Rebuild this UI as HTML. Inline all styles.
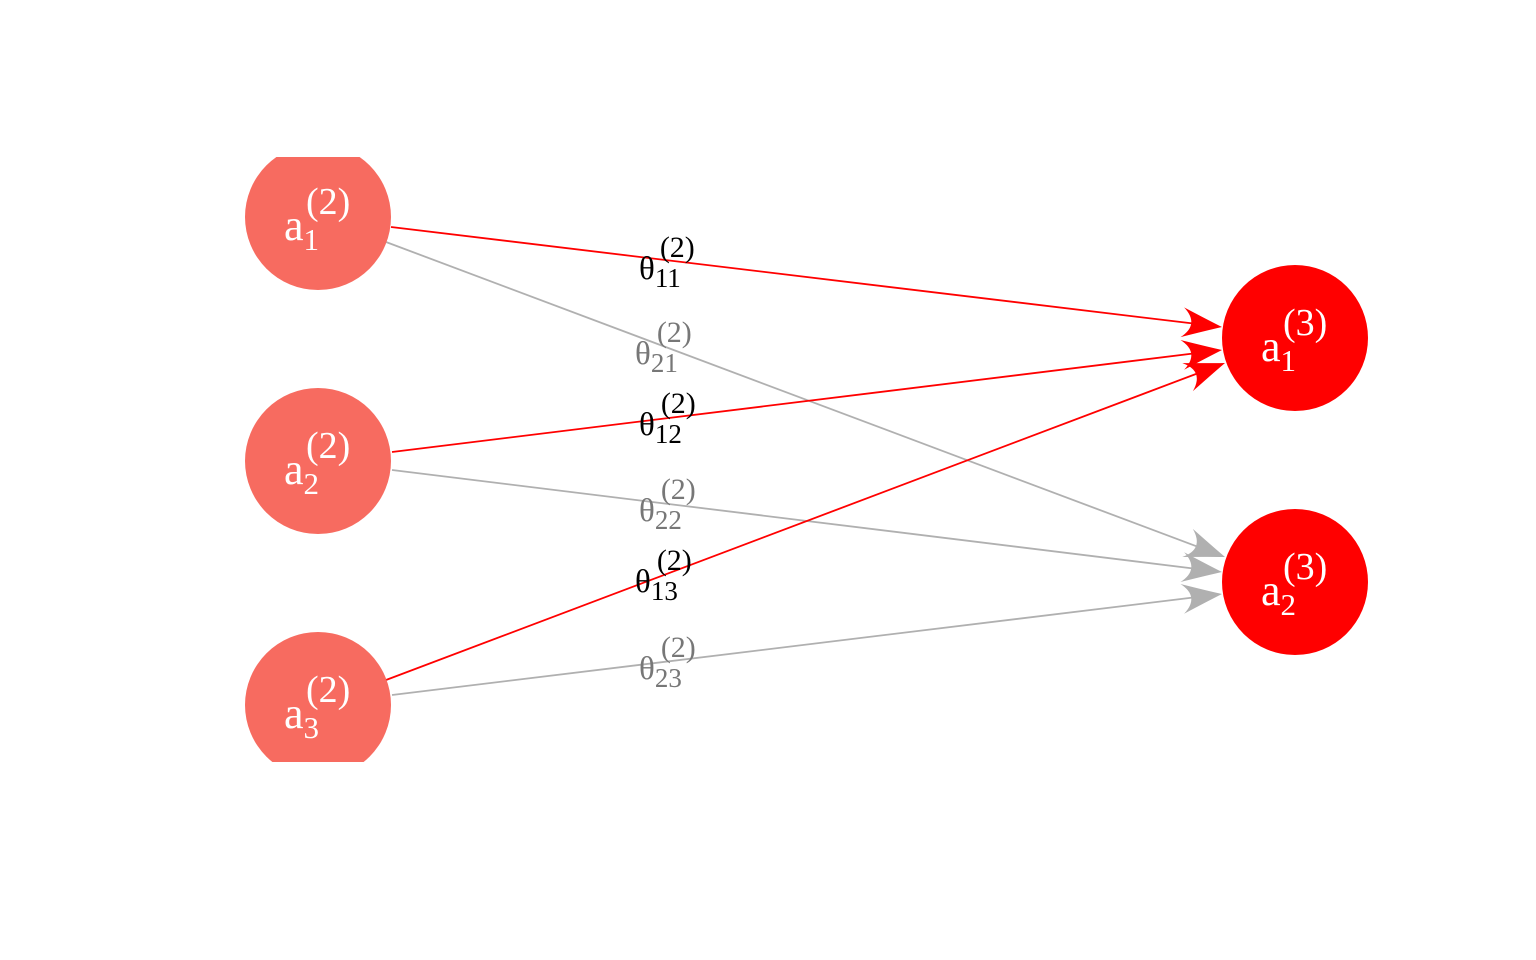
<!DOCTYPE html>
<html><head><meta charset="utf-8"><style>html,body{margin:0;padding:0;background:#fff;}svg{display:block}</style></head>
<body>
<svg id="s" width="1536" height="960" viewBox="0 0 1536 960" xmlns="http://www.w3.org/2000/svg" font-family="Liberation Serif, serif">
<defs><clipPath id="c"><rect x="0" y="157" width="1536" height="605"/></clipPath></defs>
<g id="edges"></g>
<g clip-path="url(#c)">
<circle cx="318" cy="217" r="73" fill="#F76B60"/>
<circle cx="318" cy="461" r="73" fill="#F76B60"/>
<circle cx="318" cy="705" r="73" fill="#F76B60"/>
<circle cx="1295" cy="338" r="73" fill="#FF0000"/>
<circle cx="1295" cy="582" r="73" fill="#FF0000"/>
</g>
<g fill="#fff">
<text x="284" y="240" font-size="44">a<tspan font-size="31" dy="10">1</tspan><tspan font-size="38" dx="-13" dy="-36">(2)</tspan></text>
<text x="284" y="484" font-size="44">a<tspan font-size="31" dy="10">2</tspan><tspan font-size="38" dx="-13" dy="-36">(2)</tspan></text>
<text x="284" y="728" font-size="44">a<tspan font-size="31" dy="10">3</tspan><tspan font-size="38" dx="-13" dy="-36">(2)</tspan></text>
<text x="1261" y="361" font-size="44">a<tspan font-size="31" dy="10">1</tspan><tspan font-size="38" dx="-13" dy="-36">(3)</tspan></text>
<text x="1261" y="605" font-size="44">a<tspan font-size="31" dy="10">2</tspan><tspan font-size="38" dx="-13" dy="-36">(3)</tspan></text>
</g>
<g font-size="33">
<text x="639" y="279" fill="#000">θ<tspan font-size="27" dy="8">11</tspan><tspan font-size="30" dx="-21" dy="-30">(2)</tspan></text>
<text x="635" y="364" fill="#777">θ<tspan font-size="27" dy="8">21</tspan><tspan font-size="30" dx="-21" dy="-30">(2)</tspan></text>
<text x="639" y="435" fill="#000">θ<tspan font-size="27" dy="8">12</tspan><tspan font-size="30" dx="-21" dy="-30">(2)</tspan></text>
<text x="639" y="521" fill="#777">θ<tspan font-size="27" dy="8">22</tspan><tspan font-size="30" dx="-21" dy="-30">(2)</tspan></text>
<text x="635" y="592" fill="#000">θ<tspan font-size="27" dy="8">13</tspan><tspan font-size="30" dx="-21" dy="-30">(2)</tspan></text>
<text x="639" y="679" fill="#777">θ<tspan font-size="27" dy="8">23</tspan><tspan font-size="30" dx="-21" dy="-30">(2)</tspan></text>
</g>
</svg>
<script>
var E=[[391,227,1222,327,'#FF0000'],[386,242,1225,557,'#B0B0B0'],[392,452,1222,350,'#FF0000'],[392,470,1222,572,'#B0B0B0'],[386,680,1225,363,'#FF0000'],[392,695,1222,594,'#B0B0B0']];
var g=document.getElementById('edges'),h='';
E.forEach(function(e){var dx=e[2]-e[0],dy=e[3]-e[1],l=Math.hypot(dx,dy),ux=dx/l,uy=dy/l,nx=-uy,ny=ux,L=40,W=15;
var tx=e[2],ty=e[3],bx=tx-L*ux,by=ty-L*uy;
h+='<line x1="'+e[0]+'" y1="'+e[1]+'" x2="'+(bx+10*ux)+'" y2="'+(by+10*uy)+'" stroke="'+e[4]+'" stroke-width="1.8"/>';
var p1=[bx+W*nx,by+W*ny],p2=[bx-W*nx,by-W*ny],c=[tx-22*ux,ty-22*uy],c1=[tx-14*ux+5*nx,ty-14*uy+5*ny],c2=[tx-14*ux-5*nx,ty-14*uy-5*ny];
h+='<path d="M'+tx+' '+ty+' Q'+c1+' '+p1+' Q'+c+' '+p2+' Q'+c2+' '+tx+' '+ty+'Z" fill="'+e[4]+'"/>';});
g.innerHTML=h;
</script>
</body></html>
